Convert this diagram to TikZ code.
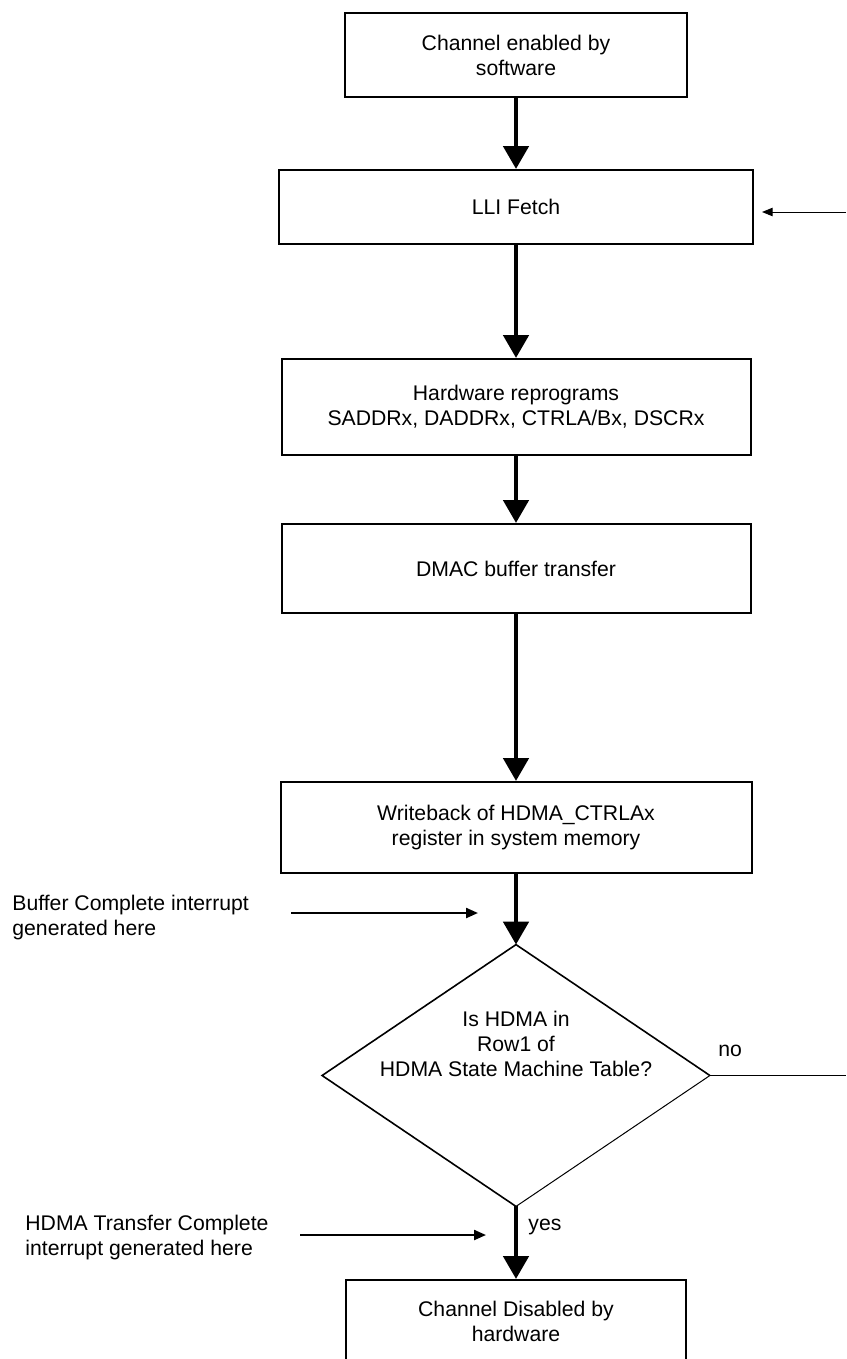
\documentclass[tikz,border=0pt]{standalone}
\usepackage{fontspec}
\setmainfont{Liberation Sans}
\usetikzlibrary{arrows.meta, shapes.geometric, positioning}

\tikzset{
  stepbox/.style={draw, line width=1pt, inner sep=0pt, align=center},
  flow/.style={line width=2.4pt, -{Triangle[length=11.5pt, width=12.5pt]}},
  notearrow/.style={line width=1.1pt, -{Triangle[length=6pt, width=5pt]}},
  thinarrow/.style={line width=0.5pt, -{Triangle[length=5.3pt, width=4.2pt]}},
  note/.style={align=left, inner sep=0pt},
}

\begin{document}
\begin{tikzpicture}[x=0.5pt, y=-0.5pt, font=\fontsize{10.6}{12.5}\selectfont]
\useasboundingbox (0,0) rectangle (846,1359);

% Main chain of steps
\node[stepbox, minimum width=171pt, minimum height=42pt] (enable) at (516,55) {Channel enabled by\\software};
\node[stepbox, minimum width=237pt, minimum height=37pt] (fetch) at (516,207) {LLI Fetch};
\node[stepbox, minimum width=234.5pt, minimum height=48pt] (reprog) at (516,407) {Hardware reprograms\\SADDRx, DADDRx, CTRLA/Bx, DSCRx};
\node[stepbox, minimum width=234.5pt, minimum height=44.5pt] (transfer) at (516,568.5) {DMAC buffer transfer};
\node[stepbox, minimum width=235.5pt, minimum height=45.5pt] (writeback) at (516,827.5) {Writeback of HDMA\_CTRLAx\\register in system memory};

% Decision
\node[diamond, aspect=1.48, inner sep=0pt, minimum width=193.5pt, minimum height=130.5pt,
  label={[align=center, yshift=16pt]center:Is HDMA in\\Row1 of\\HDMA State Machine Table?}] (decide) at (516,1075.5) {};
\draw[line width=0.8pt, line join=miter] (decide.east) -- (decide.north) -- (decide.west) -- (decide.south);
\draw[line width=0.5pt] (decide.south) -- (decide.east);

\node[stepbox, minimum width=170pt, minimum height=41pt] (disable) at (516,1321) {Channel Disabled by\\hardware};

% Flow arrows
\draw[flow] (enable) -- (fetch);
\draw[flow] (fetch) -- (reprog);
\draw[flow] (reprog) -- (transfer);
\draw[flow] (transfer) -- (writeback);
\draw[flow] (writeback) -- (decide.north);
\draw[flow] (decide.south) -- (disable);

% Branch labels
\node[anchor=base west, inner sep=0pt] (nolbl) at (718,1056) {no};
\node[anchor=base west, inner sep=0pt] (yeslbl) at (528,1230) {yes};

% Loop back (leaves the page)
\coordinate (noexit) at (846,1075.5);
\coordinate (loopin) at (846,212);
\draw[line width=0.5pt] (decide.east) -- (noexit);
\draw[thinarrow, shorten >=4pt] (loopin) -- (fetch.east |- loopin);

% Interrupt notes
\node[note, anchor=west] (bufnote) at (12,918) {Buffer Complete interrupt\\generated here};
\coordinate (bufstart) at (291,913);
\coordinate (bufend) at (478,913);
\draw[notearrow] (bufstart) -- (bufend);

\node[note, anchor=west] (donenote) at (25,1238) {HDMA Transfer Complete\\interrupt generated here};
\coordinate (donestart) at (300,1235);
\coordinate (doneend) at (486,1235);
\draw[notearrow] (donestart) -- (doneend);

\end{tikzpicture}
\end{document}
